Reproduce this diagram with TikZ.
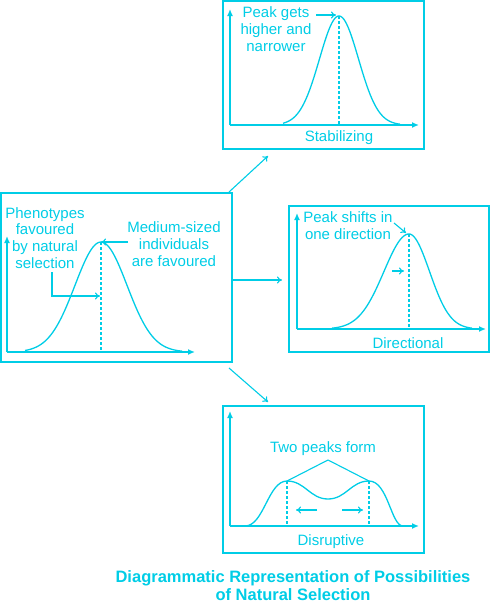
\documentclass[tikz,border=0pt]{standalone}
\usepackage{fontspec}
\setmainfont{Liberation Sans}
\usetikzlibrary{arrows.meta}
\definecolor{cy}{RGB}{0,205,230}
\begin{document}
\begin{tikzpicture}[x=1pt,y=-1pt,
  every node/.style={text=cy,inner sep=0pt},
  lbl/.style={font=\fontsize{15}{16.8}\selectfont,align=center},
  box/.style={draw=cy,line width=1.3pt,minimum width=#1},
  axis/.style={draw=cy,line width=1.4pt,-{Latex[length=7pt,width=6pt]}},
  curve/.style={draw=cy,line width=1.3pt},
  guide/.style={draw=cy,line width=1.1pt,dash pattern=on 3pt off 2pt},
  conn/.style={draw=cy,line width=1.1pt,-{To[length=5pt,width=7pt]}},
  ]
\useasboundingbox (0,0) rectangle (491,605);
% boxes
\node[box=231,minimum height=169] (L) at (116.5,277.5) {};
\node[box=201,minimum height=148] (S) at (323.5,75) {};
\node[box=200,minimum height=146] (D) at (389,279) {};
\node[box=201,minimum height=147] (R) at (323.5,479.5) {};
% connectors between boxes
\coordinate (c1s) at (229,192); \coordinate (c1e) at (268,156);
\coordinate (c2s) at (232,280); \coordinate (c2e) at (282,280);
\coordinate (c3s) at (229,368); \coordinate (c3e) at (268,402);
\draw[conn] (c1s) -- (c1e);
\draw[conn] (c2s) -- (c2e);
\draw[conn] (c3s) -- (c3e);

% ---------- left panel ----------
\coordinate (lo) at (7,352);
\draw[axis] (lo) -- (7,236);
\draw[axis] (lo) -- (195,352);
\draw[curve] plot[domain=25:182,samples=80,smooth] (\x,{352-110*exp(-((\x-101)^2)/(2*26*26))});
\coordinate (lp) at (101,242);
\draw[guide] (lp) -- (101,352);
\node[lbl] (lt1) at (45,238) {Phenotypes\\favoured\\by natural\\selection};
\node[lbl] (lt2) at (174,244) {Medium-sized\\individuals\\are favoured};
\coordinate (la1) at (128,242);
\draw[conn] (la1) -- (lp);
\coordinate (la2) at (52,272); \coordinate (la2e) at (100,296);
\draw[conn] (la2) |- (la2e);

% ---------- stabilizing ----------
\coordinate (so) at (230,125);
\draw[axis] (so) -- (230,9);
\draw[axis] (so) -- (419,125);
\draw[curve] plot[domain=283:400,samples=80,smooth] (\x,{125-109*exp(-((\x-339)^2)/(2*19.5*19.5))});
\coordinate (sp) at (339,16);
\draw[guide] (sp) -- (339,125);
\node[lbl] (st) at (276,29) {Peak gets\\higher and\\narrower};
\coordinate (sa) at (316,15); \coordinate (sae) at (336,15);
\draw[conn] (sa) -- (sae);
\node[lbl] (sl) at (339,138) {Stabilizing};

% ---------- directional ----------
\coordinate (do) at (297,329);
\draw[axis] (do) -- (297,213);
\draw[axis] (do) -- (486,329);
\draw[curve] plot[domain=332:409,samples=60,smooth] (\x,{329-95*exp(-((\x-409)^2)/(2*25*25))});
\draw[curve] plot[domain=409:472,samples=60,smooth] (\x,{329-95*exp(-((\x-409)^2)/(2*20.5*20.5))});
\coordinate (dp) at (409,234);
\draw[guide] (dp) -- (409,329);
\node[lbl] (dt) at (348,226) {Peak shifts in\\one direction};
\coordinate (da) at (394,223); \coordinate (dae) at (406,233);
\draw[conn] (da) -- (dae);
\coordinate (ds) at (392,271); \coordinate (dse) at (404,271);
\draw[conn] (ds) -- (dse);
\node[lbl] (dl) at (408,343) {Directional};

% ---------- disruptive ----------
\coordinate (ro) at (230,526);
\draw[axis] (ro) -- (230,411);
\draw[axis] (ro) -- (419,526);
\draw[curve] (245,526) .. controls (264,526) and (268,481) .. (287,481)
  .. controls (305,481) and (310,499) .. (328,499)
  .. controls (346,499) and (351,481) .. (369,481)
  .. controls (388,481) and (391,526) .. (403,526);
\coordinate (rp1) at (287,481); \coordinate (rp2) at (369,481);
\draw[guide] (rp1) -- (287,526);
\draw[guide] (rp2) -- (369,526);
\node[lbl] (rt) at (323,449) {Two peaks form};
\coordinate (rap) at (328,460);
\draw[cy,line width=1.1pt] (rp1) -- (rap) -- (rp2);
\coordinate (rl) at (317,510); \coordinate (rle) at (296,510);
\draw[conn] (rl) -- (rle);
\coordinate (rr) at (342,510); \coordinate (rre) at (363,510);
\draw[conn] (rr) -- (rre);
\node[lbl] (rlab) at (331,542) {Disruptive};

% ---------- title ----------
\node[font=\bfseries\fontsize{16.5}{18}\selectfont,align=center] (title) at (293,586) {Diagrammatic Representation of Possibilities\\of Natural Selection};
\end{tikzpicture}
\end{document}
